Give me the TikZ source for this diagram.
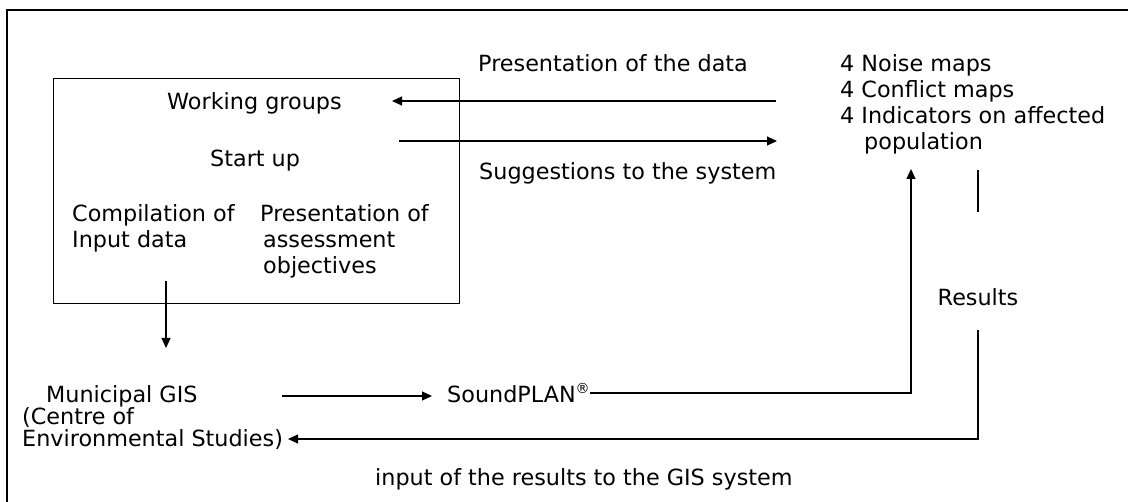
\documentclass[tikz,border=0pt]{standalone}
\usepackage{fontspec}
\setmainfont{DejaVu Sans}
\usetikzlibrary{arrows.meta}
\begin{document}
\begin{tikzpicture}[x=1pt,y=-1pt,
  txt/.style={inner sep=0pt, anchor=base west, font=\fontsize{22.3}{26}\selectfont},
  ln/.style={line width=1.2pt},
  arr/.style={ln, -{Triangle[length=10pt,width=9pt]}}]
\useasboundingbox (0,0) rectangle (1128,502);
\clip (0,0) rectangle (1128,502);
\draw[line width=1.5pt] (7,10) rectangle (1140,515);
\node[draw, ln, inner sep=0pt, minimum width=406pt, minimum height=225pt, anchor=north west] (box) at (53,78) {};
% texts in the box
\node[txt] (wg) at (167,110) {Working groups};
\node[txt] (su) at (210,167) {Start up};
\node[txt] (ci1) at (72,222) {Compilation of};
\node[txt] (ci2) at (72,248) {Input data};
\node[txt] (pa1) at (260,222) {Presentation of};
\node[txt] (pa2) at (263,248) {assessment};
\node[txt] (pa3) at (263,274) {objectives};
% arrow labels
\node[txt] (pd) at (478,72) {Presentation of the data};
\node[txt] (sg) at (479,180) {Suggestions to the system};
% result list
\node[txt] (r1) at (840,72) {4 Noise maps};
\node[txt] (r2) at (840,98) {4 Conflict maps};
\node[txt] (r3) at (840,124) {4 Indicators on affected};
\node[txt] (r4) at (864,150) {population};
% GIS
\node[txt] (g1) at (46,403) {Municipal GIS};
\node[txt] (g2) at (22,425) {(Centre of};
\node[txt] (g3) at (22,447) {Environmental Studies)};
% SoundPLAN
\node[txt] (sp) at (447,403) {SoundPLAN{\fontsize{14}{14}\selectfont\raisebox{9pt}{®}}};
\node[txt] (in) at (375,486) {input of the results to the GIS system};
\node[txt, anchor=base] (res) at (978,306) {Results};
% connectors
\coordinate (pdA) at (776,101);
\coordinate (pdB) at (392,101);
\draw[arr] (pdA) -- (pdB);
\coordinate (sgA) at (399,141);
\coordinate (sgB) at (777,141);
\draw[arr] (sgA) -- (sgB);
\coordinate (dnA) at (166,281);
\coordinate (dnB) at (166,348);
\draw[arr] (dnA) -- (dnB);
\coordinate (gsA) at (282,396);
\coordinate (gsB) at (432,396);
\draw[arr] (gsA) -- (gsB);
\coordinate (spA) at (sp.east |- 0,393);
\coordinate (spC) at (911,393);
\coordinate (spB) at (911,169);
\draw[arr] (spA) -- (spC) -- (spB);
\coordinate (rsA) at (978,170);
\coordinate (rsB) at (978,212);
\draw[ln] (rsA) -- (rsB);
\coordinate (rsC) at (978,330);
\coordinate (rsD) at (978,439);
\coordinate (rsE) at (288,439);
\draw[arr] (rsC) -- (rsD) -- (rsE);
\end{tikzpicture}
\end{document}
